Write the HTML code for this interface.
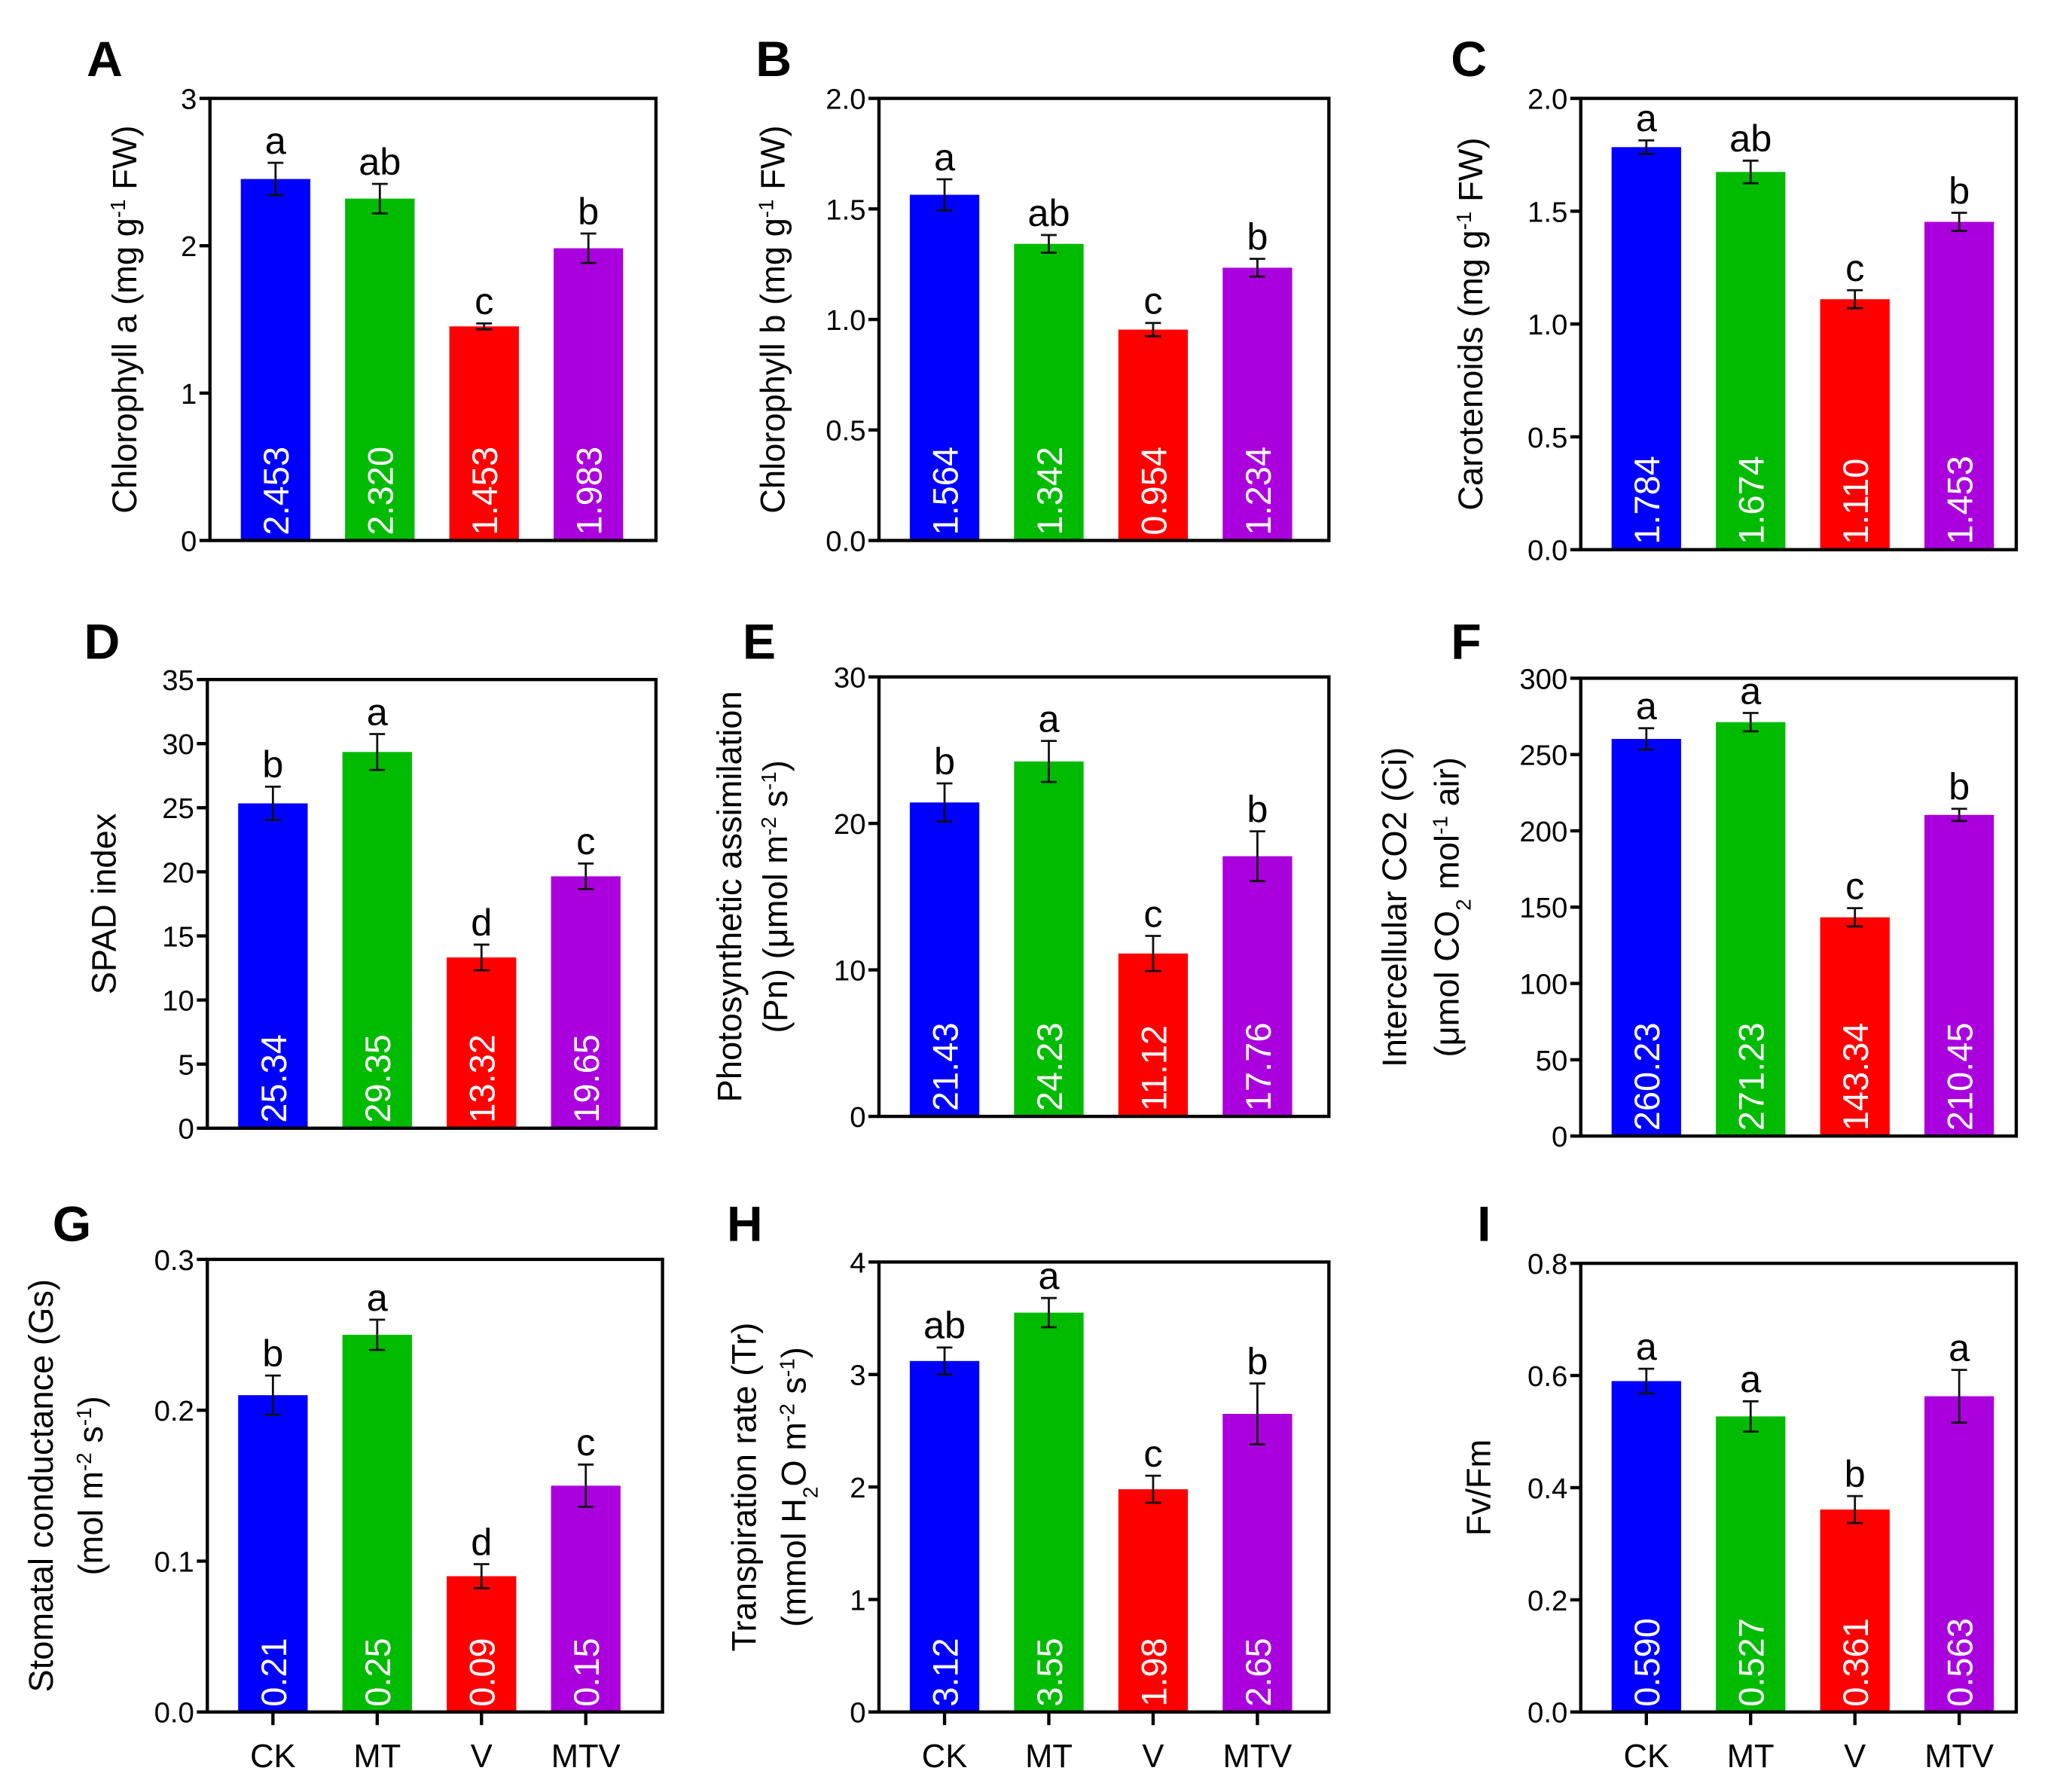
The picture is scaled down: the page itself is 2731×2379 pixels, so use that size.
<!DOCTYPE html>
<html><head><meta charset="utf-8"><style>
html,body{margin:0;padding:0;background:#fff;}
svg{display:block;font-family:"Liberation Sans",Arial,sans-serif;}
</style></head><body>
<svg id="fig" width="2731" height="2379" viewBox="0 0 1568 1366" xmlns="http://www.w3.org/2000/svg"></svg>
<script>
const categories = ["CK","MT","V","MTV"];
const colors = ["#0000ff","#00bb00","#ff0000","#aa00dd"];
const valsA = [2.453,2.320,1.453,1.983];
const errA = [0.11,0.10,0.02,0.10];
const letA = ["a","ab","c","b"];
const valsB = [1.564,1.342,0.954,1.234];
const errB = [0.07,0.04,0.03,0.04];
const letB = ["a","ab","c","b"];
const valsC = [1.784,1.674,1.110,1.453];
const errC = [0.03,0.05,0.04,0.04];
const letC = ["a","ab","c","b"];
const valsD = [25.34,29.35,13.32,19.65];
const errD = [1.3,1.4,1.0,1.0];
const letD = ["b","a","d","c"];
const valsE = [21.43,24.23,11.12,17.76];
const errE = [1.3,1.4,1.2,1.7];
const letE = ["b","a","c","b"];
const valsF = [260.23,271.23,143.34,210.45];
const errF = [7,6,6,4];
const letF = ["a","a","c","b"];
const valsG = [0.21,0.25,0.09,0.15];
const errG = [0.013,0.01,0.008,0.014];
const letG = ["b","a","d","c"];
const valsH = [3.12,3.55,1.98,2.65];
const errH = [0.12,0.13,0.12,0.27];
const letH = ["ab","a","c","b"];
const valsI = [0.590,0.527,0.361,0.563];
const errI = [0.022,0.027,0.024,0.047];
const letI = ["a","a","b","a"];
const ticksA = [0,1,2,3];
const ticksB = [0,0.5,1,1.5,2];
const ticksC = [0,0.5,1,1.5,2];
const ticksD = [0,5,10,15,20,25,30,35];
const ticksE = [0,10,20,30];
const ticksF = [0,50,100,150,200,250,300];
const ticksG = [0,0.1,0.2,0.3];
const ticksH = [0,1,2,3,4];
const ticksI = [0,0.2,0.4,0.6,0.8];

const NS="http://www.w3.org/2000/svg";
const svg=document.getElementById('fig');
function mk(tag,attrs,parent){const e=document.createElementNS(NS,tag);for(const k in attrs)e.setAttribute(k,attrs[k]);(parent||svg).appendChild(e);return e;}

const panels=[
 {id:"A",L:160,R:500,T:75,B:412,vals:valsA,err:errA,let:letA,ticks:ticksA,dec:0,vdec:3,lx:66,ly:58,title:[["Chlorophyll a (mg g","-1"," FW)"]],tx:[104]},
 {id:"B",L:670,R:1013,T:75,B:412,vals:valsB,err:errB,let:letB,ticks:ticksB,dec:1,vdec:3,lx:576,ly:58,title:[["Chlorophyll b (mg g","-1"," FW)"]],tx:[598]},
 {id:"C",L:1205,R:1537,T:75,B:419,vals:valsC,err:errC,let:letC,ticks:ticksC,dec:1,vdec:3,lx:1106,ly:58,title:[["Carotenoids (mg g","-1"," FW)"]],tx:[1130]},
 {id:"D",L:158,R:500,T:518,B:860,vals:valsD,err:errD,let:letD,ticks:ticksD,dec:0,vdec:2,lx:64,ly:502,title:[["SPAD index"]],tx:[88]},
 {id:"E",L:670,R:1013,T:516,B:851,vals:valsE,err:errE,let:letE,ticks:ticksE,dec:0,vdec:2,lx:566,ly:502,title:[["Photosynthetic assimilation"],["(Pn) (μmol m","-2"," s","-1",")"]],tx:[565,600]},
 {id:"F",L:1205,R:1537,T:517,B:866,vals:valsF,err:errF,let:letF,ticks:ticksF,dec:0,vdec:2,lx:1106,ly:502,title:[["Intercellular CO2 (Ci)"],["(μmol CO","_2"," mol","-1"," air)"]],tx:[1072,1112]},
 {id:"G",L:158,R:505,T:960,B:1305,vals:valsG,err:errG,let:letG,ticks:ticksG,dec:1,vdec:2,lx:40,ly:946,title:[["Stomatal conductance (Gs)"],["(mol m","-2"," s","-1",")"]],tx:[40,78]},
 {id:"H",L:670,R:1013,T:962,B:1305,vals:valsH,err:errH,let:letH,ticks:ticksH,dec:0,vdec:2,lx:554,ly:946,title:[["Transpiration rate (Tr)"],["(mmol H","_2","O m","-2"," s","-1",")"]],tx:[576,614]},
 {id:"I",L:1205,R:1537,T:963,B:1305,vals:valsI,err:errI,let:letI,ticks:ticksI,dec:1,vdec:3,lx:1126,ly:946,title:[["Fv/Fm"]],tx:[1136]}
];

panels.forEach((p,pi)=>{
  const g=mk('g',{});
  
  
  const ymax=p.ticks[p.ticks.length-1];
  const y=v=>p.B-(v/ymax)*(p.B-p.T);
  const x=i=>p.L+50+79.5*i;
  const pl=mk('text',{x:p.lx,y:p.ly,'font-size':38,'font-weight':'bold',fill:'#000'},g);
  pl.textContent=p.id;
  
  
  p.vals.forEach((v,i)=>{
    const r=mk('rect',{x:x(i)-26.5,y:y(v),width:53,height:p.B-y(v),fill:colors[i]},g);
    
    
    const e=p.err[i], cx=x(i);
    const eb=mk('path',{d:`M${cx},${y(v+e)}V${y(v-e)}M${cx-6},${y(v+e)}H${cx+6}M${cx-6},${y(v-e)}H${cx+6}`,stroke:'#111',"stroke-width":1.6,fill:'none'},g);
    
    
    const lt=mk('text',{x:cx,y:y(v+e)-7,'font-size':29,'text-anchor':'middle',fill:'#000'},g);
    lt.textContent=p.let[i];
    
    
    const vt=mk('text',{x:0,y:0,'font-size':27,fill:'#fff',transform:`translate(${cx+10},${p.B-4}) rotate(-90)`},g);
    vt.textContent=v.toFixed(p.vdec);
    
    
  });
  const fr=mk('rect',{x:p.L,y:p.T,width:p.R-p.L,height:p.B-p.T,fill:'none',stroke:'#000','stroke-width':2.5},g);
  
  
  p.ticks.forEach(t=>{
    const tl=mk('line',{x1:p.L-8,x2:p.L,y1:y(t),y2:y(t),stroke:'#000','stroke-width':2.5},g);
    
    
    const tt=mk('text',{x:p.L-10,y:y(t)+8,'font-size':22,'text-anchor':'end',fill:'#000'},g);
    tt.textContent=t.toFixed(p.dec);
    
    
  });
  p.title.forEach((parts,li)=>{
    const cy=(p.T+p.B)/2;
    const tt=mk('text',{x:0,y:0,'font-size':26,'text-anchor':'middle',fill:'#000',transform:`translate(${p.tx[li]},${cy}) rotate(-90)`},g);
    
    
    parts.forEach(s=>{
      const ts=mk('tspan',{},tt);
      if(s[0]==='-'){ts.setAttribute('baseline-shift','super');ts.setAttribute('font-size',16);ts.textContent=s;}
      else if(s[0]==='_'){ts.setAttribute('baseline-shift','sub');ts.setAttribute('font-size',16);ts.textContent=s.slice(1);}
      else ts.textContent=s;
    });
  });
  if(pi>=6){
    categories.forEach((c,i)=>{
      const tl=mk('line',{x1:x(i),x2:x(i),y1:p.B,y2:p.B+10,stroke:'#000','stroke-width':2.5},g);
      
      
      const tt=mk('text',{x:x(i),y:p.B+42,'font-size':25,'text-anchor':'middle',fill:'#000'},g);
      tt.textContent=c;
      
      
    });
  }
});
</script>
</body></html>
